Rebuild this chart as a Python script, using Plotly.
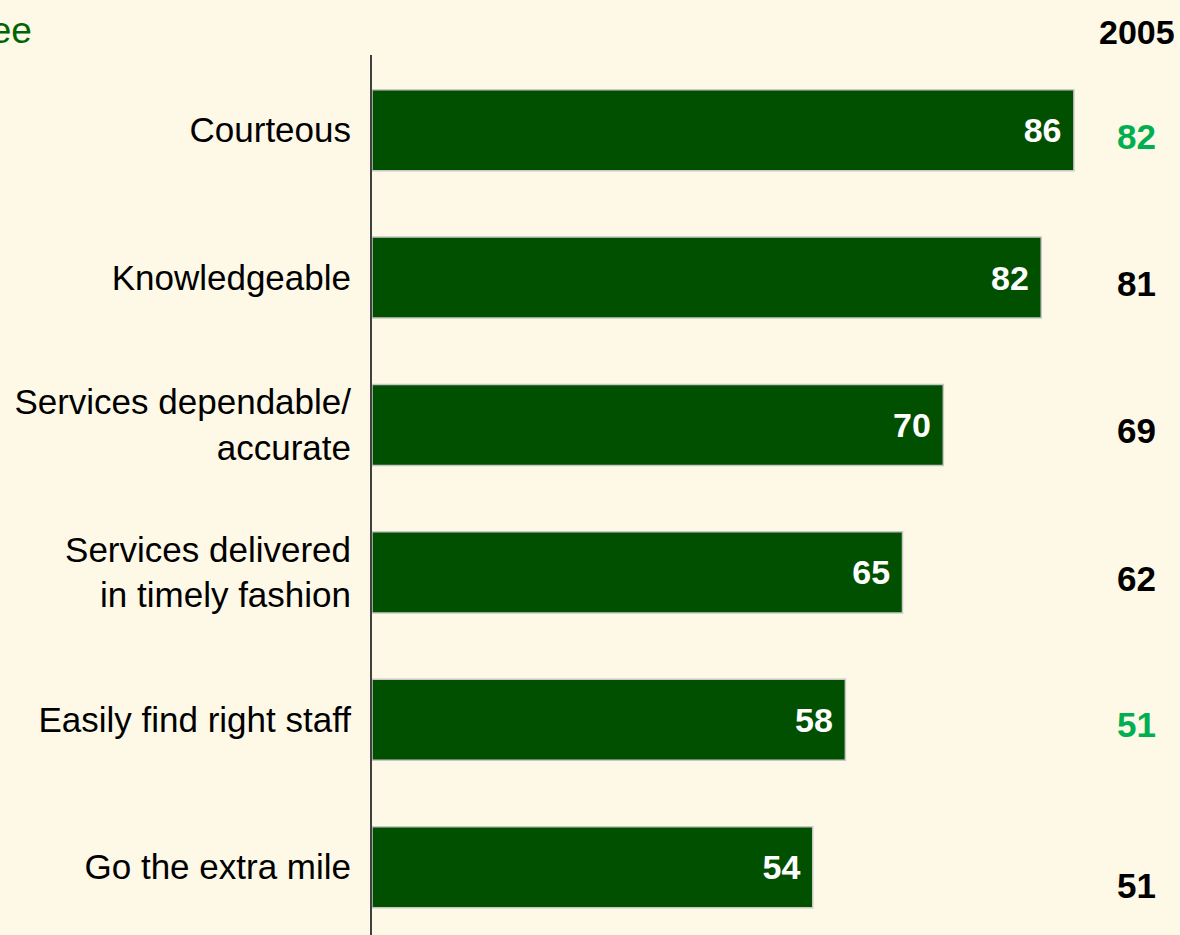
import plotly.graph_objects as go

categories = ["Courteous", "Knowledgeable", "Services dependable/<br>accurate",
              "Services delivered<br>in timely fashion", "Easily find right staff",
              "Go the extra mile"]
values_current = [86, 82, 70, 65, 58, 54]
values_2005 = [82, 81, 69, 62, 51, 51]
colors_2005 = ["#00B050", "#000000", "#000000", "#000000", "#00B050", "#000000"]
shift_2005 = [-6, -6, -6, -6, -5, -18]
header_2005 = "2005"
corner_text = "% Agree"

FONT = "Liberation Sans, Arial, sans-serif"

fig = go.Figure()
fig.add_trace(go.Bar(
    x=values_current, y=categories, orientation="h", width=0.55,
    marker=dict(color="#005000", line=dict(color="#C8C8C8", width=1.5)),
    text=[f"{v}\u00a0" for v in values_current], textposition="inside",
    insidetextanchor="end", textangle=0,
    textfont=dict(family=FONT, size=34, color="white", weight="bold"),
    cliponaxis=False,
))

for cat, v, c, s in zip(categories, values_2005, colors_2005, shift_2005):
    fig.add_annotation(x=93.7, y=cat, xref="x", yref="y", text=f"<b>{v}</b>",
                       showarrow=False, xanchor="center", yshift=s,
                       font=dict(family=FONT, size=35, color=c))

fig.add_annotation(x=93.7, y=1, xref="x", yref="paper", yshift=23, text=f"<b>{header_2005}</b>",
                   showarrow=False, xanchor="center", yanchor="middle",
                   font=dict(family=FONT, size=34, color="#000000"))
fig.add_annotation(x=(34 - 372) / 808, y=1, xref="paper", yref="paper", yshift=25,
                   text=corner_text, showarrow=False, xanchor="right", yanchor="middle",
                   font=dict(family=FONT, size=37, color="#006400"))

fig.update_layout(
    width=1180, height=935,
    margin=dict(l=372, r=0, t=55, b=0, autoexpand=False),
    paper_bgcolor="#FEF8E7", plot_bgcolor="#FEF8E7",
    showlegend=False, bargap=0.45,
    xaxis=dict(range=[0, 99], visible=False, showgrid=False, zeroline=False),
    yaxis=dict(range=[5.46, -0.51], showline=True, linecolor="#404040", linewidth=2,
               showgrid=False, zeroline=False, ticks="", ticklabelstandoff=12,
               automargin=False,
               tickfont=dict(family=FONT, size=35, color="#000000")),
)

fig.write_html("out.html", config={"displayModeBar": False},
               post_script="document.body.style.margin='0';")
